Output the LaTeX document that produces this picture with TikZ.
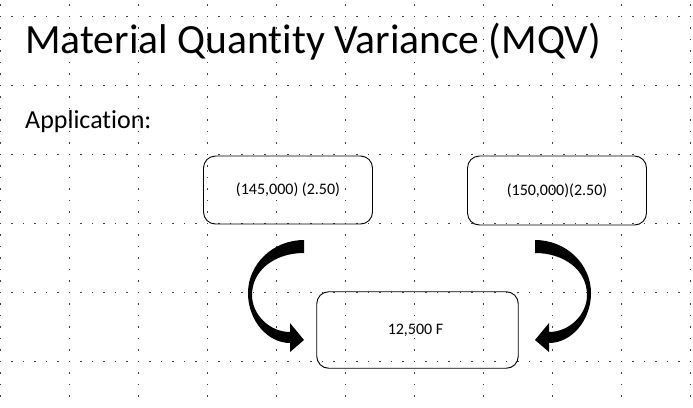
\documentclass[tikz,border=0pt]{standalone}
\usepackage{fontspec}
\setmainfont{Carlito}[Ligatures={NoCommon}]
\begin{document}
\begin{tikzpicture}[x=1pt,y=-1pt,
  box/.style={draw=black, line width=0.9pt, rounded corners=12pt, inner sep=0pt, font=\fontsize{16}{19}\selectfont},
  griddot/.style={fill=black!75},
  blockarrow/.style={fill=black}]
\useasboundingbox (0,0) rectangle (693,407);
\fill[white] (0,0) rectangle (693,407);
% dotted grid
\foreach \r in {0,...,5}{
  \foreach \j in {0,...,60}{
    \fill[griddot] ({0.5+11.5*\j-0.6},{16.5+69*\r-0.6}) rectangle ++(1.2,1.2);
  }
}
\foreach \c in {0,...,10}{
  \foreach \j in {0,...,34}{
    \fill[griddot] ({0.5+69*\c-0.6},{5+11.5*\j-0.6}) rectangle ++(1.2,1.2);
  }
}
% texts
\node[anchor=base west, inner sep=0pt, font=\fontsize{41.6}{48}\selectfont] (title) at (25,53) {Material Quantity Variance (MQV)};
\node[anchor=base west, inner sep=0pt, font=\fontsize{26}{31}\selectfont] (app) at (25,128) {Application:};
% boxes
\node[box, minimum width=169pt, minimum height=68pt] (b1) at (288,190) {(145,000) (2.50)};
\node[box, minimum width=179pt, minimum height=69pt] (b2) at (557,190.5) {(150,000)(2.50)};
\node[box, minimum width=201.5pt, minimum height=76.5pt] (b3) at (417.5,330) {\hspace*{-4pt}12,500 F};
% curved block arrows
\fill[blockarrow] (304,240) .. controls (273,240) and (248,264) .. (248,293)
      .. controls (248,321) and (268,343) .. (290,343) -- (290,352) -- (304,340) -- (290,323) -- (290,332)
      .. controls (270,332) and (252,315) .. (252,295)
      .. controls (252,270) and (275,253) .. (304,253) -- cycle;
\fill[blockarrow] (535,240) .. controls (566,240) and (591,264) .. (591,293)
      .. controls (591,321) and (571,343) .. (549,343) -- (549,352) -- (535,340) -- (549,323) -- (549,332)
      .. controls (569,332) and (587,315) .. (587,295)
      .. controls (587,270) and (564,253) .. (535,253) -- cycle;
\end{tikzpicture}
\end{document}
